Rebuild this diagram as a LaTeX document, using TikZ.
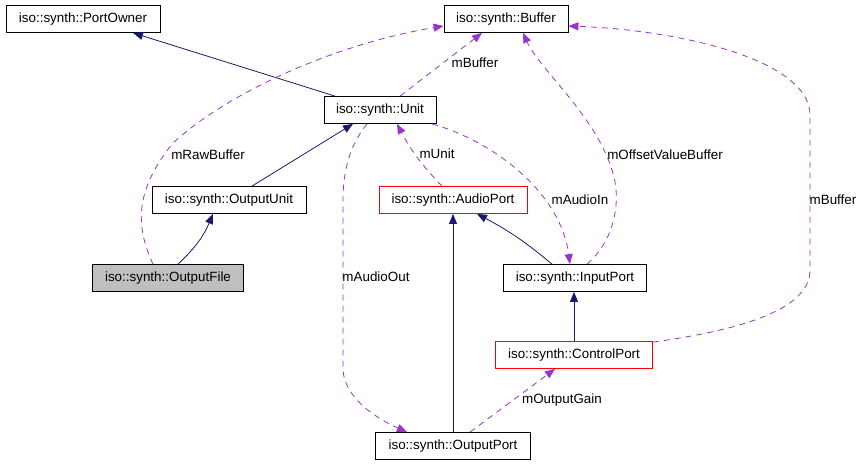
\documentclass[tikz,border=0pt]{standalone}
\usepackage{fontspec}
\setmainfont{Liberation Sans}
\usetikzlibrary{arrows.meta}
\definecolor{inhcol}{HTML}{191970}
\definecolor{usecol}{HTML}{9A32CD}
\definecolor{curcol}{HTML}{BFBFBF}

\begin{document}
\begin{tikzpicture}[x=1pt, y=-1pt,
    cls/.style={draw=black, line width=0.8pt, inner sep=0pt, minimum height=27pt,
      font=\fontsize{13.4}{16}\selectfont},
    lbl/.style={inner sep=0pt, font=\fontsize{13.4}{16}\selectfont},
    inherit/.style={draw=inhcol, line width=0.8pt, -{Triangle[length=10pt,width=8pt]}},
    uses/.style={draw=usecol, line width=0.8pt, dash pattern=on 6pt off 5pt,
      -{Triangle[length=10pt,width=8pt]}}]
  \useasboundingbox (0,0) rectangle (863,464);

  % classes
  \node[cls, minimum width=154pt] (powner) at (83,19) {iso::synth::PortOwner};
  \node[cls, minimum width=124pt] (buffer) at (506,19) {iso::synth::Buffer};
  \node[cls, minimum width=112pt] (unit) at (380,110) {iso::synth::Unit};
  \node[cls, minimum width=154pt] (ounit) at (229,200) {iso::synth::OutputUnit};
  \node[cls, minimum width=148pt, draw=red] (aport) at (453,200) {iso::synth::AudioPort};
  \node[cls, minimum width=151pt, fill=curcol] (ofile) at (168,278) {iso::synth::OutputFile};
  \node[cls, minimum width=143pt] (iport) at (575,278) {iso::synth::InputPort};
  \node[cls, minimum width=157pt, draw=red] (cport) at (574,355) {iso::synth::ControlPort};
  \node[cls, minimum width=155pt] (oport) at (453,446) {iso::synth::OutputPort};

  % inheritance
  \draw[inherit] ([xshift=-45pt]unit.north) -- ([xshift=50pt]powner.south);
  \draw[inherit] ([xshift=23pt]ounit.north) -- ([xshift=-27pt]unit.south);
  \draw[inherit] ([xshift=10pt]ofile.north) to[bend right=12] ([xshift=-16pt]ounit.south);
  \draw[inherit] ([xshift=-23pt]iport.north) to[bend right=6] ([xshift=24pt]aport.south);
  \draw[inherit] (oport.north) -- (aport.south);
  \draw[inherit] (cport.north) -- (cport.north |- iport.south);

  % members
  \draw[uses] ([xshift=-15pt]ofile.north) .. controls (135,225) and (135,190) .. (173,143)
    .. controls (225,95) and (330,45) .. ([yshift=-7pt]buffer.west);
  \draw[uses] ([xshift=20pt]unit.north) -- ([xshift=-24pt]buffer.south);
  \draw[uses] ([xshift=-11pt]aport.north) to[bend left=8] ([xshift=17pt]unit.south);
  \draw[uses] ([xshift=52pt]unit.south) .. controls (490,140) and (560,190) .. ([xshift=-5pt]iport.north);
  \draw[uses] ([xshift=12pt]iport.north) .. controls (615,240) and (622,200) .. (612,170)
    .. controls (595,115) and (540,70) .. ([xshift=17pt]buffer.south);
  \draw[uses] ([yshift=-1pt]cport.north east) .. controls (740,330) and (810,310) .. (810,270)
    -- (810,115) .. controls (810,60) and (680,30) .. ([yshift=-7pt]buffer.east);
  \draw[uses] ([xshift=-13pt]unit.south) .. controls (350,145) and (343,170) .. (343,200)
    -- (343,370) .. controls (345,400) and (380,420) .. ([xshift=-46pt]oport.north);
  \draw[uses] ([xshift=17pt]oport.north) -- ([xshift=-19pt]cport.south);

  % member names
  \node[lbl] (lrawbuf) at (208,155) {mRawBuffer};
  \node[lbl] (lbuf) at (475,63) {mBuffer};
  \node[lbl] (lunit) at (437,154) {mUnit};
  \node[lbl] (lain) at (580,200) {mAudioIn};
  \node[lbl] (loffs) at (665,155) {mOffsetValueBuffer};
  \node[lbl] (lbuf2) at (833,200) {mBuffer};
  \node[lbl] (laout) at (376,277) {mAudioOut};
  \node[lbl] (lgain) at (562,400) {mOutputGain};
\end{tikzpicture}
\end{document}
